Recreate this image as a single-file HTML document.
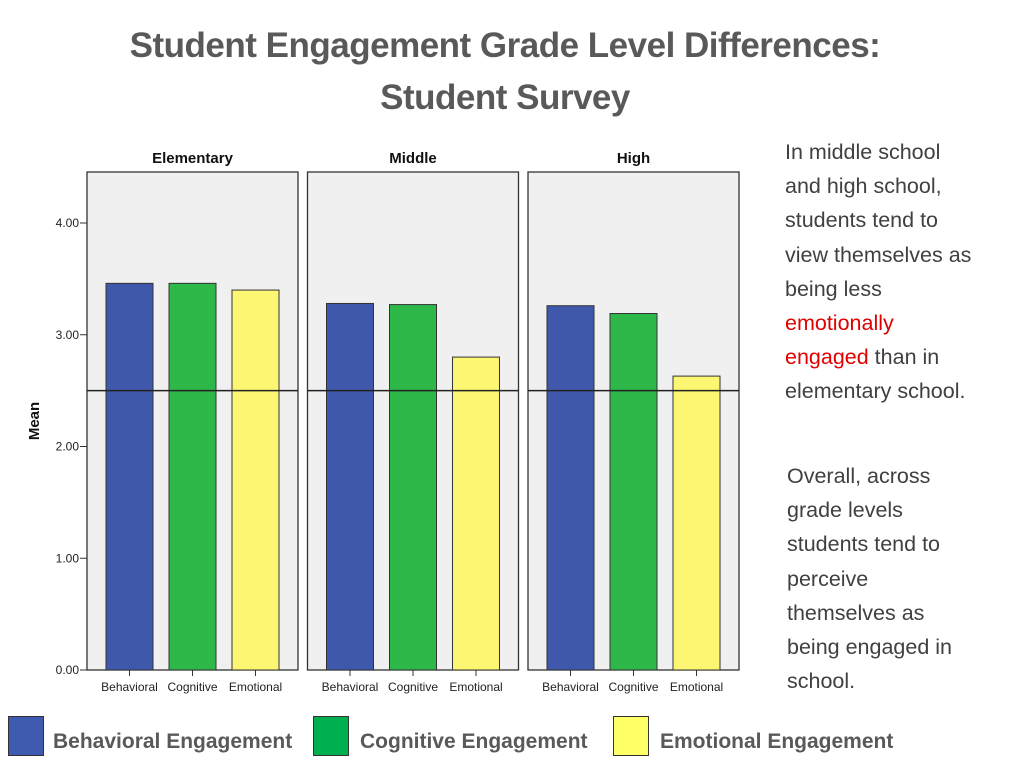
<!DOCTYPE html>
<html><head><meta charset="utf-8"><style>
body{margin:0;width:1024px;height:768px;background:#fff;overflow:hidden;position:relative;font-family:"Liberation Sans",sans-serif}
.title{position:absolute;left:0;width:1010px;text-align:center;font-weight:bold;color:#595959;font-size:35px;line-height:52px;top:20px;letter-spacing:-0.5px}
.txt{position:absolute;color:#404040;font-size:21.5px;line-height:34.2px;white-space:nowrap}
.red{color:#e00000}
.leg{position:absolute;top:716px;height:40px;font-size:21px;font-weight:bold;color:#595959}
.sw{position:absolute;width:34px;height:38px;border:1.5px solid #333;top:716px}
</style></head><body>
<div class="title">Student Engagement Grade Level Differences:<br>Student Survey</div>
<svg id="chart" width="760" height="710" style="position:absolute;left:0;top:0"></svg>
<div class="txt" style="left:785px;top:135px">In middle school<br>and high school,<br>students tend to<br>view themselves as<br>being less<br><span class="red">emotionally</span><br><span class="red">engaged</span> than in<br>elementary school.</div>
<div class="txt" style="left:787px;top:459px">Overall, across<br>grade levels<br>students tend to<br>perceive<br>themselves as<br>being engaged in<br>school.</div>
<div class="sw" style="left:8px;background:#3f5bb0"></div>
<div class="leg" style="left:53px;top:730px">Behavioral Engagement</div>
<div class="sw" style="left:313px;background:#00b050"></div>
<div class="leg" style="left:360px;top:730px">Cognitive Engagement</div>
<div class="sw" style="left:613px;background:#ffff66"></div>
<div class="leg" style="left:660px;top:730px">Emotional Engagement</div>
<script>
const panels=["Elementary","Middle","High"];
const categories=["Behavioral","Cognitive","Emotional"];
const behavioral=[3.46,3.28,3.26];
const cognitive=[3.46,3.27,3.19];
const emotional=[3.40,2.80,2.63];
const refLine=2.5;
const yTicks=[0,1,2,3,4];
const yTickLabels=["0.00","1.00","2.00","3.00","4.00"];
const series=[behavioral,cognitive,emotional];
const colors=["#3f58ab","#2fb84a","#fdf672"];
const svg=document.getElementById('chart');
const NS="http://www.w3.org/2000/svg";
const y0=670,ppu=111.75;
const y=v=>y0-v*ppu;
const panelX=p=>87+p*220.5, panelW=211;
const barX=(p,i)=>panelX(p)+19+i*63, barW=47;
function mk(t,a,txt){const e=document.createElementNS(NS,t);for(const k in a)e.setAttribute(k,a[k]);if(txt!=null)e.textContent=txt;svg.appendChild(e);return e;}
panels.forEach((name,p)=>{
 let r=mk('rect',{x:panelX(p),y:172,width:panelW,height:y0-172,fill:'#f0f0f0',stroke:'#333','stroke-width':1.3});
 
 
 let t=mk('text',{x:panelX(p)+panelW/2,y:163,'text-anchor':'middle','font-size':15,'font-weight':'bold',fill:'#111'},name);
 
 
 series.forEach((s,i)=>{
  let b=mk('rect',{x:barX(p,i),y:y(s[p]),width:barW,height:y0-y(s[p]),fill:colors[i],stroke:'#333','stroke-width':1});
  
  
  mk('line',{x1:barX(p,i)+barW/2,x2:barX(p,i)+barW/2,y1:y0,y2:y0+6,stroke:'#333'});
  let l=mk('text',{x:barX(p,i)+barW/2,y:y0+21,'text-anchor':'middle','font-size':12,fill:'#222'},categories[i]);
  
  
 });
 let rl=mk('line',{x1:panelX(p),x2:panelX(p)+panelW,y1:y(refLine),y2:y(refLine),stroke:'#222','stroke-width':1.5});
 
 
});
yTicks.forEach((v,i)=>{
 mk('line',{x1:80,x2:87,y1:y(v),y2:y(v),stroke:'#333'});
 let t=mk('text',{x:79,y:y(v)+4,'text-anchor':'end','font-size':12,fill:'#222'},yTickLabels[i]);
 
 
});
let yt=mk('text',{x:0,y:0,transform:'translate(39,421) rotate(-90)','text-anchor':'middle','font-size':15,'font-weight':'bold',fill:'#111'},'Mean');


</script>
</body></html>
